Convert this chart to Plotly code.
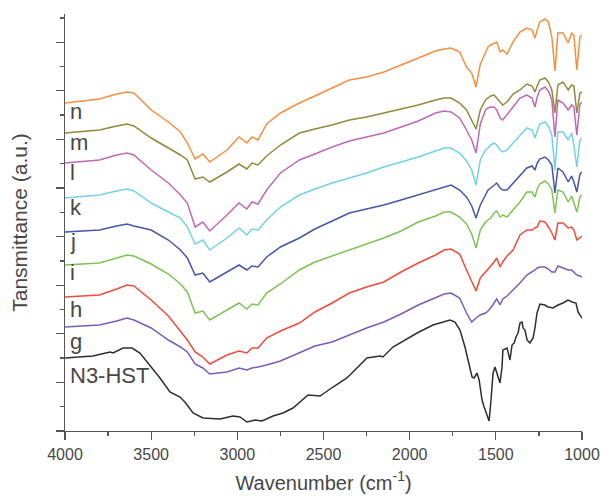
import plotly.graph_objects as go

# Wavenumber grid (cm-1) for the eight modified samples
wavenumber = [4000, 3800, 3700, 3640, 3600, 3500, 3400, 3330, 3290, 3245,
              3200, 3160, 3060, 2990, 2945, 2915, 2880, 2830, 2750, 2640,
              2550, 2450, 2350, 2250, 2150, 2050, 1950, 1850, 1800, 1760,
              1710, 1670, 1640, 1615, 1590, 1560, 1545, 1530, 1510, 1495,
              1475, 1460, 1435, 1400, 1360, 1320, 1290, 1273, 1260, 1245,
              1215, 1195, 1175, 1157, 1140, 1110, 1080, 1060, 1047, 1030,
              1012, 1000]

# Stacked transmittance (a.u.)
spec_n = [328, 332, 337, 339, 338, 321, 309, 299, 288, 272,
          277, 269, 281, 294, 288, 294, 291, 307, 318, 328,
          335, 343, 351, 354, 359, 366, 373, 380, 382, 383,
          379, 364, 358, 344, 367, 379, 384, 386, 388, 389,
          379, 381, 377, 389, 399, 403, 401, 393, 401, 409,
          412, 409, 394, 360, 398, 398, 388, 398, 396, 361,
          394, 396]
spec_m = [298, 301, 305, 307, 305, 293, 283, 276, 271, 252,
          254, 249, 259, 267, 262, 268, 266, 275, 286, 298,
          302, 306, 311, 314, 318, 322, 326, 331, 333, 333,
          328, 321, 311, 302, 321, 331, 333, 335, 336, 333,
          328, 326, 329, 337, 341, 347, 345, 339, 345, 351,
          353, 349, 341, 318, 346, 349, 341, 346, 345, 318,
          338, 339]
spec_l = [268, 271, 276, 278, 276, 261, 248, 236, 228, 204,
          209, 200, 216, 228, 222, 229, 227, 241, 258, 271,
          277, 284, 290, 294, 298, 304, 310, 318, 320, 319,
          313, 301, 291, 278, 307, 321, 323, 324, 324, 321,
          313, 311, 316, 324, 333, 336, 333, 324, 334, 341,
          344, 340, 331, 294, 331, 328, 321, 326, 324, 296,
          327, 329]
spec_k = [233, 236, 240, 242, 240, 228, 219, 213, 204, 187,
          191, 181, 193, 203, 196, 202, 201, 211, 224, 236,
          242, 248, 253, 258, 264, 269, 274, 280, 283, 283,
          278, 270, 261, 246, 271, 281, 283, 286, 288, 286,
          281, 279, 281, 288, 296, 303, 301, 293, 300, 307,
          309, 305, 296, 261, 299, 299, 291, 298, 286, 264,
          291, 293]
spec_j = [199, 201, 205, 207, 205, 201, 191, 181, 173, 156,
          158, 149, 159, 166, 161, 165, 164, 174, 184, 193,
          202, 210, 218, 222, 226, 231, 236, 241, 244, 246,
          241, 234, 225, 213, 226, 237, 241, 243, 246, 248,
          243, 241, 241, 248, 256, 263, 265, 261, 268, 272,
          274, 271, 266, 238, 263, 259, 249, 255, 249, 239,
          257, 259]
spec_i = [166, 168, 173, 176, 175, 167, 157, 147, 139, 118,
          120, 111, 121, 128, 122, 127, 126, 138, 147, 161,
          169, 175, 181, 187, 193, 200, 209, 215, 219, 219,
          214, 207, 197, 183, 201, 209, 211, 213, 218, 220,
          214, 216, 214, 221, 229, 239, 239, 234, 242, 247,
          250, 247, 241, 218, 241, 239, 229, 235, 228, 219,
          234, 236]
spec_h = [134, 136, 142, 146, 145, 131, 115, 99, 91, 79,
          74, 67, 76, 80, 78, 83, 83, 93, 100, 108,
          119, 128, 138, 144, 149, 159, 168, 176, 181, 182,
          177, 161, 149, 140, 153, 159, 161, 164, 169, 173,
          164, 169, 175, 181, 196, 201, 201, 203, 204, 210,
          209, 204, 198, 191, 208, 208, 203, 204, 201, 191,
          194, 195]
spec_g = [104, 106, 110, 113, 111, 103, 91, 84, 79, 67,
          63, 57, 59, 63, 61, 63, 64, 66, 70, 78,
          85, 89, 96, 103, 109, 117, 126, 133, 137, 138,
          133, 118, 109, 113, 116, 118, 120, 123, 129, 132,
          126, 132, 135, 141, 148, 156, 159, 161, 163, 164,
          164, 162, 159, 159, 165, 163, 161, 161, 159, 156,
          155, 154]

# N3-HST parent material
hst_wavenumber = [4000, 3838, 3739, 3721, 3663, 3611, 3565, 3507, 3449, 3391,
                  3333, 3304, 3257, 3199, 3101, 3025, 2985, 2944, 2897, 2857,
                  2793, 2735, 2677, 2590, 2520, 2445, 2364, 2306, 2248, 2172,
                  2155, 2097, 1957, 1865, 1766, 1737, 1708, 1679, 1662, 1638,
                  1626, 1609, 1597, 1580, 1568, 1551, 1539, 1528, 1516, 1505,
                  1493, 1476, 1464, 1459, 1435, 1418, 1406, 1394, 1383, 1371,
                  1360, 1348, 1342, 1331, 1319, 1302, 1284, 1273, 1261, 1244,
                  1215, 1197, 1168, 1139, 1110, 1081, 1058, 1035, 1023, 1006,
                  1000]
spec_hst = [73, 75, 79, 78, 83, 83, 78, 66, 53, 39,
            34, 29, 18, 13, 12, 15, 14, 9, 11, 10,
            15, 18, 23, 36, 35, 44, 53, 63, 73, 75,
            74, 84, 98, 106, 111, 109, 101, 84, 71, 54,
            53, 58, 51, 31, 24, 15, 10, 31, 58, 64,
            58, 48, 64, 81, 83, 71, 86, 88, 94, 98,
            108, 109, 103, 101, 91, 88, 93, 103, 118, 127,
            126, 124, 123, 126, 128, 131, 129, 128, 119, 114,
            113]

labels = ["n", "m", "l", "k", "j", "i", "h", "g"]
colors = ["#F98E3E", "#8C8C3C", "#C466B6", "#72D2E6", "#4656A8",
          "#7DC451", "#F44A3C", "#7A5CB8"]
sample_series = [spec_n, spec_m, spec_l, spec_k, spec_j, spec_i, spec_h, spec_g]
x_ticks = [4000, 3500, 3000, 2500, 2000, 1500, 1000]

FONT = "Liberation Sans, Arial, Helvetica, sans-serif"
TXT = "#474747"
AX = "#555555"

fig = go.Figure()
fig.add_trace(go.Scatter(x=hst_wavenumber, y=spec_hst, mode="lines",
                         line=dict(color="#2E2E2E", width=1.5), name="N3-HST"))
for name, vals, col in zip(labels[::-1], sample_series[::-1], colors[::-1]):
    fig.add_trace(go.Scatter(x=wavenumber, y=vals, mode="lines",
                             line=dict(color=col, width=1.5), name=name))

# curve labels (paper coordinates)
label_y = {"n": 0.767, "m": 0.691, "l": 0.621, "k": 0.537, "j": 0.454,
           "i": 0.381, "h": 0.292, "g": 0.215, "N3-HST": 0.133}
for txt, yy in label_y.items():
    fig.add_annotation(text=txt, xref="paper", yref="paper", x=0.006, y=yy,
                       xanchor="left", yanchor="middle", showarrow=False,
                       font=dict(family=FONT, size=22, color=TXT))

fig.update_layout(
    width=601, height=497,
    margin=dict(l=65, r=19, t=14, b=66, autoexpand=False),
    plot_bgcolor="white", paper_bgcolor="white",
    showlegend=False,
    font=dict(family=FONT, color=TXT),
)
fig.update_xaxes(
    range=[4000, 1000], tickvals=x_ticks, ticktext=[str(v) for v in x_ticks],
    ticks="outside", ticklen=8, tickwidth=1.3, tickcolor=AX,
    showline=True, linecolor=AX, linewidth=1.3,
    showgrid=False, zeroline=False, automargin=False,
    minor=dict(ticks="outside", ticklen=4, tickwidth=1.3, tickcolor=AX,
               tick0=1000, dtick=250, showgrid=False),
    tickfont=dict(family=FONT, size=16, color=TXT),
    title=dict(text="Wavenumber (cm<sup>-1</sup>)",
               font=dict(family=FONT, size=20, color=TXT), standoff=14),
)
fig.update_yaxes(
    range=[0, 417], tick0=0, dtick=48.6,
    ticks="outside", ticklen=8, tickwidth=1.3, tickcolor=AX,
    showticklabels=False,
    showline=True, linecolor=AX, linewidth=1.3,
    showgrid=False, zeroline=False, automargin=False,
    minor=dict(ticks="outside", ticklen=4, tickwidth=1.3, tickcolor=AX,
               tick0=0, dtick=24.3, showgrid=False),
    title=dict(text="Tansmittance (a.u.)",
               font=dict(family=FONT, size=21, color=TXT), standoff=22),
)

# remove the default page margin so the 601x497 figure fills the window
fig.write_html(
    "out.html",
    config={"displayModeBar": False, "staticPlot": True},
    post_script="document.body.style.margin='0';document.body.style.overflow='hidden';",
)
